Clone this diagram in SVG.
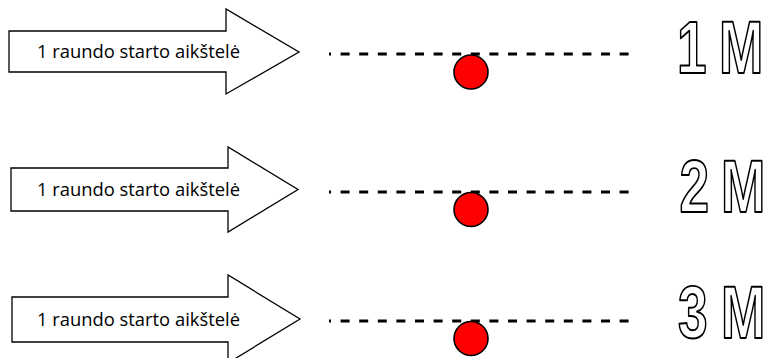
<svg xmlns="http://www.w3.org/2000/svg" width="766" height="358" viewBox="0 0 766 358">
<style>
.arrow{fill:#fff;stroke:#000;stroke-width:1.3;stroke-linejoin:miter}
.lbl{font-family:"Open Sans","Liberation Sans",sans-serif;font-size:18px;fill:#000}
.dash{stroke:#000;stroke-width:2.8;stroke-dasharray:9 9.6;stroke-dashoffset:7;fill:none}
.ball{fill:#ff0000;stroke:#000;stroke-width:1.6}
.big{font-family:"Liberation Sans",Arial,sans-serif;font-weight:bold;font-size:74px;fill:#fff;stroke:#000;stroke-width:2;stroke-linejoin:round}
</style>
<rect width="766" height="358" fill="#fff"/>
<g id="arrow1">
<polygon class="arrow" points="9,31 226,31 226,9 299,52 226,94 226,72 9,72"/>
<text class="lbl" x="37" y="57.5" textLength="203" lengthAdjust="spacingAndGlyphs">1 raundo starto aikštelė</text>
</g>
<g id="arrow2">
<polygon class="arrow" points="11,168 228,168 228,147 298,189.5 228,232 228,211 11,211"/>
<text class="lbl" x="37" y="195.5" textLength="203" lengthAdjust="spacingAndGlyphs">1 raundo starto aikštelė</text>
</g>
<g id="arrow3">
<polygon class="arrow" points="12,297 228,297 228,275 300,319 228,363 228,342 12,342"/>
<text class="lbl" x="37" y="325.5" textLength="203" lengthAdjust="spacingAndGlyphs">1 raundo starto aikštelė</text>
</g>
<g id="connectors">
<line class="dash" x1="329" y1="54" x2="632" y2="54"/>
<line class="dash" x1="329" y1="192" x2="632" y2="192"/>
<line class="dash" x1="329" y1="321" x2="632" y2="321"/>
</g>
<g id="ball1"><circle class="ball" cx="471" cy="72" r="17"/></g>
<g id="ball2"><circle class="ball" cx="471" cy="209.5" r="17"/></g>
<g id="ball3"><circle class="ball" cx="471" cy="338.5" r="17"/></g>
<g id="label1">
<text class="big" transform="translate(677,73) scale(0.72,1)"><tspan x="0">1 </tspan><tspan x="58.3">M</tspan></text>
</g>
<g id="label2">
<text class="big" transform="translate(679.4,212) scale(0.72,1)"><tspan x="0">2 </tspan><tspan x="57.8">M</tspan></text>
</g>
<g id="label3">
<text class="big" transform="translate(678,338) scale(0.72,1)"><tspan x="0">3 </tspan><tspan x="59.7">M</tspan></text>
</g>
</svg>
